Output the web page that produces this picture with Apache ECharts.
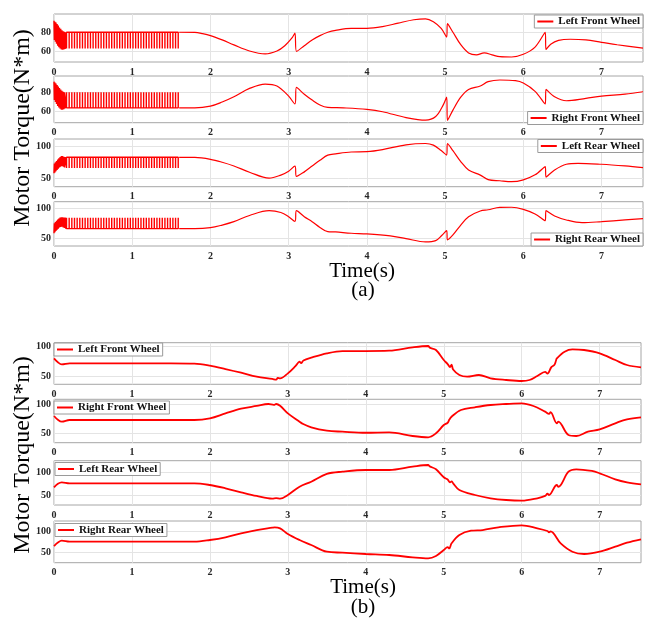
<!DOCTYPE html>
<html>
<head>
<meta charset="utf-8">
<script src="https://cdn.jsdelivr.net/npm/echarts@6/dist/echarts.min.js"></script>
<style>
  html, body { margin: 0; padding: 0; background: #fff; }
  #chart { width: 645px; height: 619px; }
</style>
</head>
<body>
<div id="chart"></div>
<script>
// ---------- wheel names ----------
const wheelNames = ['Left Front Wheel', 'Right Front Wheel', 'Left Rear Wheel', 'Right Rear Wheel'];
const timeTicks = [0, 1, 2, 3, 4, 5, 6, 7];
const yTicksA = [[60, 80], [60, 80], [50, 100], [50, 100]];
const yTicksB = [[50, 100], [50, 100], [50, 100], [50, 100]];

// ---------- (a): start-up transient of each wheel [t, torque] ----------
const lfTransientA = [[0,92],[0.005,72],[0.012,91],[0.018,70],[0.025,90],[0.032,68],[0.04,88.5],[0.047,66],[0.055,87],[0.062,64.5],[0.07,85],[0.078,63],[0.086,83.5],[0.094,62],[0.102,82],[0.11,61.7],[0.118,81],[0.126,62],[0.134,80.5],[0.142,62.5],[0.15,80]];
const rfTransientA = [[0,91],[0.005,72],[0.012,90],[0.018,70],[0.025,89],[0.032,68],[0.04,87.5],[0.047,66],[0.055,86],[0.062,64.5],[0.07,84.5],[0.078,63],[0.086,83],[0.094,62],[0.102,81.5],[0.11,62],[0.118,80.5],[0.126,62.5],[0.134,80],[0.142,63.5],[0.15,64]];
const lrTransientA = [[0,58],[0.005,73],[0.012,59],[0.018,75],[0.025,61],[0.032,77],[0.04,63],[0.047,79],[0.055,65],[0.062,81],[0.07,67],[0.078,83],[0.086,68],[0.094,84.5],[0.102,69],[0.11,84.5],[0.118,68],[0.126,83.5],[0.134,67],[0.142,83],[0.15,82.6]];
const rrTransientA = [[0,58.3],[0.005,75],[0.012,60],[0.018,77],[0.025,62],[0.032,79],[0.04,64],[0.047,81],[0.055,66],[0.062,83],[0.07,68],[0.078,84.5],[0.086,69],[0.094,85],[0.102,69.3],[0.11,85],[0.118,68],[0.126,84.5],[0.134,67],[0.142,84.5],[0.15,66]];

// chattering instants of the switching controller (s)
const chatterTimes = [0.16,0.194,0.228,0.262,0.296,0.33,0.364,0.398,0.432,0.466,0.5,0.534,0.568,0.602,0.636,0.67,0.704,0.738,0.772,0.806,0.84,0.874,0.908,0.942,0.976,1.01,1.044,1.078,1.112,1.146,1.18,1.214,1.248,1.282,1.316,1.35,1.384,1.418,1.452,1.486,1.52,1.554,1.588];
// resting level and chatter extreme for each wheel
const chatterBaseA = [80, 64, 82.6, 66];
const chatterPeakA = [63, 80, 66, 84];

// ---------- (a): torque after the chattering stops ----------
const lfCurveA = [[1.6,80],[1.8,79.8],[1.9,78.5],[2.0,76.5],[2.15,72],[2.3,66.8],[2.5,60.5],[2.7,57.5],[2.85,60.5],[2.95,66],[3.05,75],[3.08,79],[3.1,60],[3.2,66],[3.3,72],[3.4,76.5],[3.5,80],[3.6,82],[3.8,84],[4.0,84],[4.2,85.8],[4.4,89.5],[4.6,93],[4.75,94],[4.85,91],[4.95,84],[5.02,75],[5.03,89],[5.1,80],[5.2,67],[5.3,58.5],[5.4,56.5],[5.5,58.5],[5.6,56.5],[5.7,54.5],[5.85,54.2],[6.0,57],[6.15,64.5],[6.28,80],[6.29,62],[6.35,67.5],[6.45,71.5],[6.6,72.7],[6.8,72],[7.0,69.5],[7.2,67],[7.53,63.5]];
const rfCurveA = [[1.6,64],[1.8,64],[2.0,65.8],[2.15,70],[2.3,75.4],[2.5,84],[2.7,88.5],[2.85,86.5],[3.0,76],[3.08,68],[3.1,85],[3.2,78],[3.3,72],[3.4,67],[3.5,64.5],[3.7,64],[4.0,62.4],[4.2,60],[4.5,54],[4.75,51.3],[4.88,55],[4.97,66],[5.02,75],[5.03,51],[5.1,61.7],[5.2,75],[5.3,83],[5.45,86.5],[5.55,91],[5.7,92.7],[5.9,92],[6.0,89.5],[6.15,81],[6.28,68],[6.29,83],[6.4,75.4],[6.55,71.3],[6.8,73.8],[7.0,76],[7.3,78.2],[7.53,80.6]];
const lrCurveA = [[1.6,82.6],[1.8,82.4],[2.0,79.5],[2.15,75],[2.3,69.2],[2.5,59.5],[2.75,50.3],[2.9,55],[3.0,61],[3.08,69],[3.1,53],[3.2,60],[3.3,69],[3.4,78],[3.5,86],[3.6,88],[3.8,90.8],[4.0,91.3],[4.2,94.5],[4.5,102],[4.75,104],[4.85,101.5],[4.95,93],[5.02,86],[5.03,104],[5.1,93],[5.2,76],[5.3,63],[5.45,55],[5.55,48],[5.7,46.2],[5.85,44.8],[6.0,47.7],[6.15,55.4],[6.28,68.2],[6.29,52],[6.4,63],[6.55,71.8],[6.7,73.3],[7.0,71.8],[7.3,69.2],[7.53,66.6]];
const rrCurveA = [[1.6,66],[1.8,66],[2.0,67.7],[2.15,72],[2.3,77.7],[2.5,88],[2.75,96],[2.9,93],[3.0,86],[3.08,78],[3.1,96],[3.2,86],[3.3,77.7],[3.4,68],[3.5,61],[3.6,60.5],[3.8,58.3],[4.0,57.2],[4.3,53.8],[4.5,49.4],[4.75,43.8],[4.88,46],[4.96,55],[5.02,62.7],[5.03,47.2],[5.1,55.5],[5.2,72],[5.3,86],[5.45,95.5],[5.55,97.5],[5.7,101.5],[5.85,101.7],[6.0,98.3],[6.15,90.5],[6.28,79.3],[6.29,96],[6.4,87.2],[6.55,80.5],[6.75,76],[7.0,77.7],[7.3,80.5],[7.53,82.7]];

// ---------- (b): torque of each wheel [t, torque] ----------
const lfB = [[0,80.6],[0.05,74],[0.1,70.6],[0.2,72.3],[0.5,72.3],[1.0,72.3],[1.5,72.3],[1.8,71.8],[2.0,68.4],[2.2,62.8],[2.4,56.7],[2.6,50],[2.8,46.2],[2.85,45],[2.87,48],[2.9,47.3],[3.0,55.6],[3.1,68],[3.15,75],[3.17,72.5],[3.2,77],[3.3,81.7],[3.5,89],[3.7,92.8],[4.0,92.8],[4.3,93.4],[4.6,99],[4.8,101.2],[4.82,98.5],[4.9,94.5],[5.0,77.8],[5.05,71],[5.08,66],[5.1,70],[5.12,62],[5.2,52.8],[5.3,50],[5.45,52.8],[5.6,47.3],[5.8,44.5],[6.0,42.8],[6.1,44.5],[6.2,51.2],[6.3,58],[6.33,55],[6.38,66],[6.42,70],[6.44,77],[6.45,80.6],[6.55,91.7],[6.65,95.6],[6.8,94.5],[7.0,89],[7.2,77.8],[7.35,69.5],[7.53,65.6]];
const rfB = [[0,79.5],[0.05,73],[0.1,69.8],[0.2,72.7],[0.5,72.7],[1.0,72.7],[1.5,72.7],[1.8,72.7],[2.0,75.6],[2.2,84],[2.4,92],[2.6,96.6],[2.75,100],[2.82,98.5],[2.85,100],[2.9,97],[3.0,84],[3.15,69.8],[3.18,67],[3.3,60.2],[3.5,54.5],[3.7,52.8],[4.0,51],[4.3,51.6],[4.6,45.4],[4.8,43.2],[4.9,50],[5.0,64.2],[5.05,68],[5.07,73],[5.1,78.3],[5.22,89.8],[5.4,94.4],[5.6,98.3],[5.8,100],[6.0,101.1],[6.15,96.6],[6.3,86.9],[6.35,83],[6.37,86],[6.45,67.1],[6.47,70],[6.6,47.1],[6.7,45.4],[6.85,52.8],[7.0,56.8],[7.2,67.1],[7.35,73.9],[7.53,77.3]];
const lrB = [[0,67],[0.05,75],[0.1,78],[0.2,75.8],[0.5,75.8],[1.0,75.8],[1.5,75.8],[1.8,75.8],[2.0,72],[2.2,64.8],[2.4,56],[2.6,47.9],[2.8,42],[2.85,43],[2.9,42],[3.0,50],[3.15,68.3],[3.3,79.3],[3.5,96.3],[3.7,101.3],[4.0,105],[4.3,105],[4.6,112.3],[4.8,116],[4.82,113],[4.9,106.6],[5.0,89],[5.05,84],[5.08,78],[5.1,80],[5.12,75.8],[5.2,61],[5.4,50],[5.6,42.8],[5.8,39],[6.0,37.5],[6.2,42.8],[6.3,48],[6.33,53],[6.35,50],[6.45,72],[6.47,68],[6.6,101.3],[6.7,106.6],[6.9,102.9],[7.0,97.8],[7.2,84.6],[7.35,78],[7.53,73.6]];
const rrB = [[0,64.8],[0.05,73],[0.1,77.2],[0.2,74.9],[0.5,74.9],[1.0,74.9],[1.5,74.9],[1.8,75],[2.0,78.9],[2.2,85.2],[2.4,94.6],[2.6,102.3],[2.8,107.8],[2.83,108.5],[2.9,106.3],[3.0,93],[3.15,78.9],[3.3,67.1],[3.5,51.4],[3.7,49.1],[4.0,46],[4.3,43.7],[4.6,38.3],[4.8,35.9],[4.9,41.3],[5.0,55.4],[5.05,62],[5.07,59],[5.1,71.1],[5.2,90.6],[5.35,100.7],[5.5,102.3],[5.7,108.7],[6.0,113.4],[6.2,106.3],[6.33,100],[6.35,97],[6.37,99],[6.5,71.1],[6.65,51.4],[6.8,46],[7.0,51.4],[7.2,63.2],[7.35,72.5],[7.53,80.5]];

const transientA = [lfTransientA, rfTransientA, lrTransientA, rrTransientA];
const curvesA = [lfCurveA, rfCurveA, lrCurveA, rrCurveA];
const curvesB = [lfB, rfB, lrB, rrB];

// ---------- layout ----------
const T_MAX = 7.53;
const RED = '#ff0000';
const SERIF = '"Liberation Serif", "Times New Roman", serif';

// subplot boxes: [top, height, yMin, yMax]
const boxesA = [[14, 48, 49, 99], [76, 46.7, 48.7, 96.8], [139, 47.7, 37, 111], [201.7, 44.3, 37, 111]];
const boxesB = [[342.7, 41.6, 37.3, 106.7], [399.3, 43.4, 34, 108], [460.7, 44.3, 28, 125.5], [521, 41.7, 25.6, 123.5]];

// legend placement per subplot
const legendA = [{ right: 2, top: 15 }, { right: 2, top: 111.5 }, { right: 2, top: 139.5 }, { right: 2, top: 233 }];
const legendB = [{ left: 54, top: 343 }, { left: 54, top: 401 }, { left: 55, top: 462.5 }, { left: 55, top: 523.5 }];

// transient followed by instantaneous chatter spikes
function chatter(trans, times, base, peak) {
  const pts = trans.slice();
  times.forEach(t => { pts.push([t, base], [t, peak], [t, base]); });
  return pts;
}

const grids = [], xAxes = [], yAxes = [], series = [], legends = [];

function addPanel(boxes, right, ticks, lw, legPos, panel) {
  boxes.forEach((b, i) => {
    const idx = grids.length;
    grids.push({
      left: 54, right: right, top: b[0], height: b[1],
      show: true, borderColor: '#a6a6a6', borderWidth: 1, backgroundColor: '#fff'
    });
    xAxes.push({
      type: 'value', gridIndex: idx, min: 0, max: T_MAX,
      axisLine: { show: false },
      axisTick: { show: false, customValues: timeTicks },
      axisLabel: {
        customValues: timeTicks, margin: 5,
        fontFamily: SERIF, fontWeight: 'bold', fontSize: 10, color: '#262626'
      },
      splitLine: { show: true, lineStyle: { color: '#e4e4e4', width: 1 } }
    });
    yAxes.push({
      type: 'value', gridIndex: idx, min: b[2], max: b[3],
      axisLine: { show: false },
      axisTick: { show: false, customValues: ticks[i] },
      axisLabel: {
        customValues: ticks[i], margin: 3,
        fontFamily: SERIF, fontWeight: 'bold', fontSize: 10, color: '#262626'
      },
      splitLine: { show: true, lineStyle: { color: '#e4e4e4', width: 1 } }
    });
    legends.push(Object.assign({
      data: [wheelNames[i]], selectedMode: false, orient: 'horizontal',
      icon: 'rect', itemWidth: 16, itemHeight: 2,
      padding: [1, 3, 1, 3],
      backgroundColor: '#fff', borderColor: '#9a9a9a', borderWidth: 1, borderRadius: 0,
      textStyle: { fontFamily: SERIF, fontWeight: 'bold', fontSize: 11, color: '#111', padding: [0, 0, 0, 0] },
      itemStyle: { color: RED }
    }, legPos[i]));
    if (panel === 'a') {
      series.push({
        name: wheelNames[i], type: 'line', xAxisIndex: idx, yAxisIndex: idx,
        data: chatter(transientA[i], chatterTimes, chatterBaseA[i], chatterPeakA[i]),
        showSymbol: false, symbol: 'none', color: RED,
        lineStyle: { color: RED, width: 1.4 }, animation: false
      });
      series.push({
        name: wheelNames[i], type: 'line', xAxisIndex: idx, yAxisIndex: idx,
        data: curvesA[i], smooth: 0.35, showSymbol: false, symbol: 'none', color: RED,
        lineStyle: { color: RED, width: lw }, animation: false
      });
    } else {
      series.push({
        name: wheelNames[i], type: 'line', xAxisIndex: idx, yAxisIndex: idx,
        data: curvesB[i], smooth: 0.35, showSymbol: false, symbol: 'none', color: RED,
        lineStyle: { color: RED, width: lw }, animation: false
      });
    }
  });
}

addPanel(boxesA, 2, yTicksA, 1.2, legendA, 'a');
addPanel(boxesB, 4, yTicksB, 1.8, legendB, 'b');

function label(text, x, y, size, rot) {
  return {
    type: 'text', x: x, y: y, rotation: rot || 0, z: 10,
    style: {
      text: text, fill: '#000', font: size + 'px ' + SERIF,
      align: 'center', verticalAlign: 'middle'
    }
  };
}

const chart = echarts.init(document.getElementById('chart'), null, { renderer: 'canvas' });
chart.setOption({
  animation: false,
  backgroundColor: '#fff',
  grid: grids,
  xAxis: xAxes,
  yAxis: yAxes,
  legend: legends,
  series: series,
  graphic: [
    label('Motor Torque(N*m)', 23, 128, 24, Math.PI / 2),
    label('Time(s)', 362, 271, 21),
    label('(a)', 363, 290, 21),
    label('Motor Torque(N*m)', 23, 455, 24, Math.PI / 2),
    label('Time(s)', 363, 587, 21),
    label('(b)', 363, 607, 21)
  ]
});
</script>
</body>
</html>
